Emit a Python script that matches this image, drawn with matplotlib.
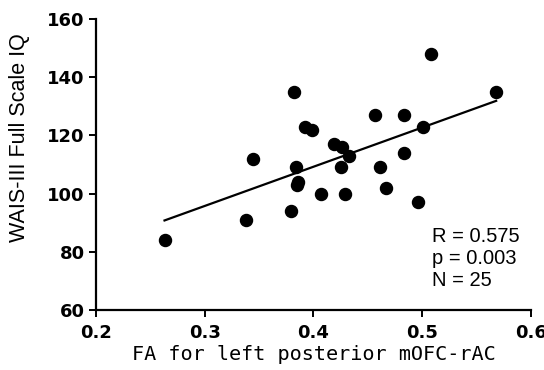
import numpy as np
import matplotlib
matplotlib.use("Agg")
import matplotlib.pyplot as plt

# FA values and full-scale IQ
fa = [0.263, 0.338, 0.344, 0.379, 0.382, 0.384, 0.386, 0.385, 0.392, 0.399,
      0.407, 0.419, 0.426, 0.425, 0.429, 0.433, 0.457, 0.461, 0.467, 0.483,
      0.483, 0.496, 0.501, 0.508, 0.568]
iq = [84, 91, 112, 94, 135, 109, 104, 103, 123, 122,
      100, 117, 116, 109, 100, 113, 127, 109, 102, 127,
      114, 97, 123, 148, 135]

x_ticks = [0.2, 0.3, 0.4, 0.5, 0.6]
y_ticks = [60, 80, 100, 120, 140, 160]
stats_text = "R = 0.575\np = 0.003\nN = 25"

fig = plt.figure(figsize=(5.44, 3.70), dpi=100)
ax = fig.add_axes([0.1765, 0.162, 0.7995, 0.7866])

ax.scatter(fa, iq, s=75, color="black", zorder=3)

# least-squares line over the data range
slope, intercept = np.polyfit(fa, iq, 1)
xs = np.array([min(fa), max(fa)])
ax.plot(xs, slope * xs + intercept, color="black", linewidth=1.6)

ax.set_xlim(0.2, 0.6)
ax.set_ylim(60, 160)
ax.set_xticks(x_ticks)
ax.set_xticklabels([str(t) for t in x_ticks])
ax.set_yticks(y_ticks)

for side in ["top", "right"]:
    ax.spines[side].set_visible(False)
for side in ["left", "bottom"]:
    ax.spines[side].set_linewidth(1.6)
ax.tick_params(direction="out", length=5, width=1.4, pad=3)
ax.tick_params(axis="x", pad=5)
for lab in ax.get_xticklabels() + ax.get_yticklabels():
    lab.set_fontfamily("DejaVu Sans")
    lab.set_fontsize(13)
    lab.set_fontweight("bold")

ax.set_xlabel("FA for left posterior mOFC-rAC", family="DejaVu Sans Mono",
              fontsize=14.5, labelpad=2)
ax.set_ylabel("WAIS-III Full Scale IQ", family="Liberation Sans",
              fontsize=15.5)
ax.yaxis.set_label_coords(30 / 544, 0, transform=fig.transFigure)
ax.yaxis.label.set_y(1 - 138 / 370)

ax.text(0.509, 88.5, stats_text, family="Liberation Sans", fontsize=14.5,
        va="top", ha="left", linespacing=1.2)

fig.savefig("out.png", dpi=100)
